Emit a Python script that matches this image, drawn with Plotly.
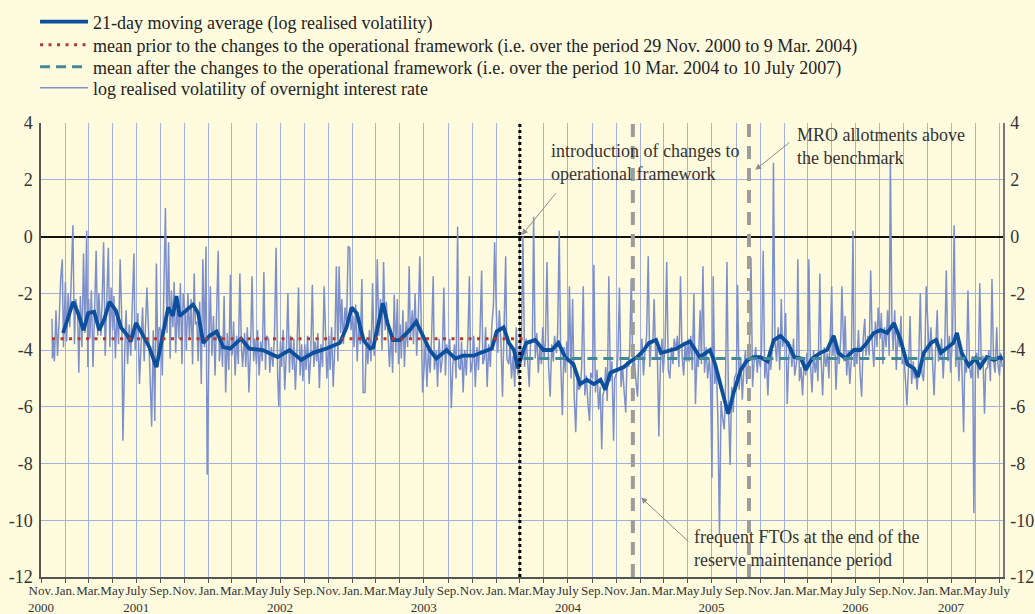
import plotly.graph_objects as go

# ---------------- data ----------------
# 21-day moving average of log realised volatility
ma_dates = [
    "2000-12-27", "2001-01-22", "2001-02-03", "2001-02-17", "2001-03-01", "2001-03-16", "2001-03-29",
    "2001-04-11", "2001-04-24", "2001-05-10", "2001-05-23", "2001-06-09", "2001-06-17", "2001-06-30",
    "2001-07-13", "2001-08-03", "2001-08-21", "2001-09-02", "2001-09-20", "2001-10-02", "2001-10-11",
    "2001-10-19", "2001-11-06", "2001-11-22", "2001-12-05", "2001-12-18", "2002-01-03", "2002-01-21",
    "2002-02-07", "2002-02-24", "2002-03-24", "2002-04-14", "2002-05-18", "2002-06-25", "2002-07-25",
    "2002-08-24", "2002-09-23", "2002-10-27", "2002-11-30", "2002-12-17", "2002-12-30", "2003-01-12",
    "2003-01-29", "2003-02-15", "2003-02-23", "2003-03-06", "2003-03-19", "2003-03-31", "2003-04-14",
    "2003-05-01", "2003-05-13", "2003-05-26", "2003-06-12", "2003-06-29", "2003-07-16", "2003-08-02",
    "2003-08-28", "2003-09-19", "2003-10-09", "2003-11-04", "2003-11-30", "2003-12-21", "2004-01-02",
    "2004-01-20", "2004-02-02", "2004-02-15", "2004-02-25", "2004-03-10", "2004-03-18", "2004-04-09",
    "2004-04-30", "2004-05-21", "2004-06-07", "2004-06-24", "2004-07-15", "2004-08-01", "2004-08-18",
    "2004-09-05", "2004-09-22", "2004-10-04", "2004-10-17", "2004-11-03", "2004-11-20", "2004-12-07",
    "2004-12-24", "2005-01-10", "2005-01-23", "2005-02-10", "2005-02-22", "2005-03-09", "2005-04-03",
    "2005-04-21", "2005-05-07", "2005-06-01", "2005-06-27", "2005-07-10", "2005-07-27", "2005-08-12",
    "2005-08-26", "2005-09-13", "2005-09-30", "2005-10-16", "2005-11-02", "2005-11-20", "2005-12-06",
    "2005-12-23", "2006-01-10", "2006-01-27", "2006-02-13", "2006-02-25", "2006-03-13", "2006-04-03",
    "2006-04-20", "2006-05-07", "2006-05-19", "2006-06-06", "2006-06-27", "2006-07-14", "2006-07-30",
    "2006-08-17", "2006-09-03", "2006-09-20", "2006-10-07", "2006-10-24", "2006-11-10", "2006-11-27",
    "2006-12-07", "2006-12-22", "2007-01-09", "2007-01-22", "2007-02-03", "2007-02-20", "2007-03-07",
    "2007-03-16", "2007-03-28", "2007-04-15", "2007-05-02", "2007-05-14", "2007-05-31", "2007-06-18",
    "2007-07-05", "2007-07-10",
]
ma_values = [
    -3.4, -2.3, -2.7, -3.3, -2.7, -2.65, -3.3,
    -2.9, -2.3, -2.6, -3.2, -3.5, -3.7, -3.05,
    -3.35, -3.9, -4.6, -3.75, -2.5, -2.8, -2.1,
    -2.8, -2.6, -2.4, -2.7, -3.75, -3.5, -3.35,
    -3.9, -3.95, -3.6, -3.95, -4.0, -4.25, -4.0,
    -4.35, -4.1, -3.95, -3.75, -3.2, -2.5, -2.7,
    -3.65, -3.95, -3.9, -3.2, -2.35, -3.05, -3.65,
    -3.65, -3.5, -3.3, -3.0, -3.5, -4.0, -4.3,
    -4.0, -4.3, -4.2, -4.2, -4.05, -3.95, -3.35,
    -3.2, -3.75, -4.0, -4.65, -4.0, -3.75, -3.65,
    -4.0, -4.0, -3.75, -4.25, -4.5, -5.2, -5.05,
    -5.2, -5.05, -5.4, -4.8, -4.7, -4.6, -4.4,
    -4.25, -4.0, -3.75, -3.65, -4.1, -4.05, -3.95,
    -3.8, -3.7, -4.25, -4.0, -4.5, -5.4, -6.25,
    -5.5, -4.7, -4.35, -4.25, -4.25, -4.4, -3.65,
    -3.5, -3.75, -4.25, -4.3, -4.7, -4.3, -4.1,
    -4.0, -3.5, -4.1, -4.3, -4.0, -4.0, -3.75,
    -3.4, -3.3, -3.4, -3.05, -3.65, -4.5, -4.65,
    -4.95, -4.1, -3.75, -3.65, -4.1, -3.9, -3.75,
    -3.4, -4.1, -4.55, -4.3, -4.6, -4.25, -4.35,
    -4.25, -4.35,
]

# daily log realised volatility, read at eight days of every month
vol_sample_days = [2, 5, 9, 13, 17, 21, 25, 28]
vol_start_dates = ["2000-11-29", "2000-11-30"]
vol_start_values = [-2.9, -4.3]
vol_2000_dec = [-3.6, -4.4, -2.6, -4.2, -3.0, -1.5, -0.8, -3.9]
vol_2001 = [
    -1.6, -3.7, -2.0, -3.2, -1.4, 0.4, -3.8, -2.2,
    -2.6, -4.8, -2.1, -3.9, -0.6, -3.4, 0.2, -4.6,
    -2.2, -3.6, -1.9, -4.6, -2.7, -0.5, -3.5, -2.0,
    -3.5, -2.4, -0.2, -4.2, -2.3, -0.4, -3.9, -1.8,
    -3.3, -2.1, -4.3, -2.6, -3.8, -0.8, -2.9, -7.2,
    -3.9, -2.6, -4.5, -3.1, -4.2, -2.4, -0.6, -4.0,
    -3.4, -2.7, -5.2, -3.6, -2.5, -4.4, -2.9, -1.8,
    -3.7, -4.8, -6.7, -3.3, -6.5, -0.95, -4.6, -3.2,
    -3.3, -4.9, -2.1, 1.0, -3.4, -0.2, -4.3, -1.9,
    -3.2, -1.6, -4.1, -2.3, -3.6, -1.65, -4.5, -2.0,
    -2.7, -4.0, -2.0, -3.6, -2.2, -4.5, -1.3, -3.1,
    -3.0, -4.4, -2.3, -5.2, -0.8, -3.9, -0.35, -8.4,
]
vol_2002 = [
    -3.6, -1.75, -4.2, -2.8, -4.9, -3.0, -0.5, -4.4,
    -3.5, -4.6, -2.1, -5.5, -3.4, -4.7, -1.35, -4.2,
    -4.1, -3.0, -4.9, -3.5, -4.5, -1.3, -3.9, -4.6,
    -3.4, -4.6, -3.2, -5.5, -4.0, -1.4, -4.4, -3.6,
    -4.5, -3.3, -4.9, -3.7, -4.4, -1.25, -4.7, -3.5,
    -3.6, -4.8, -3.9, -4.6, -3.4, -0.4, -4.9, -6.0,
    -3.7, -4.6, -3.3, -5.4, -4.1, -2.0, -4.8, -3.5,
    -4.7, -3.6, -5.4, -4.0, -1.8, -4.9, -3.8, -5.1,
    -3.8, -4.7, -3.5, -5.2, -4.2, -1.7, -4.6, -3.7,
    -4.4, -3.4, -5.35, -3.8, -4.6, -1.75, -4.1, -5.0,
    -3.5, -4.7, -3.2, -5.3, -3.9, -1.05, -4.4, -1.05,
    -3.4, -2.2, -3.8, -2.5, -3.1, -0.35, -0.4, -3.3,
]
vol_2003 = [
    -2.8, -3.9, -2.4, -4.4, -3.0, -3.8, -1.5, -5.5,
    -5.5, -3.6, -4.5, -3.3, -4.4, -1.65, -4.2, -3.0,
    -2.9, -0.8, -3.5, -2.2, -4.0, -0.9, -3.3, -2.3,
    -3.7, -4.6, -3.3, -4.8, -2.05, -4.1, -2.2, -4.5,
    -3.1, -4.3, -2.6, -4.6, -3.0, -3.9, -1.05, -3.6,
    -2.6, -3.8, -2.0, -4.2, -2.9, -0.7, -3.3, -5.5,
    -4.6, -3.6, -5.3, -3.9, -4.8, -3.5, -1.4, -4.7,
    -4.0, -5.3, -3.6, -4.8, -4.3, -1.8, -4.9, -3.8,
    -4.2, -3.6, -6.05, -4.5, -3.8, -5.0, 0.35, -4.6,
    -4.7, -3.7, -5.5, -4.0, -4.9, -3.6, -1.4, -4.8,
    -4.4, -3.5, -5.3, -3.9, -4.7, -3.3, -1.2, -4.5,
    -4.3, -3.2, -5.3, -3.8, -4.6, -3.1, -2.4, -0.2,
]
vol_2004 = [
    -3.0, -4.1, -2.6, -3.7, -5.65, -3.3, -0.7, -4.3,
    -4.5, -3.8, -5.0, -4.2, -5.3, -3.2, -4.9, -4.0,
    -4.1, -3.5, 0.0, -4.6, -3.6, -4.4, -5.3, -3.8,
    -3.6, 0.7, -4.3, -3.4, -4.8, -3.9, -4.5, -3.2,
    -4.3, -3.7, -0.9, -4.6, -5.65, -3.8, -4.4, -3.5,
    -4.1, -3.4, 0.2, -4.5, -6.3, -3.9, -4.8, -3.7,
    -4.4, -1.75, -5.0, -2.2, -5.6, -6.9, -4.9, -5.4,
    -5.3, -4.6, -1.75, -5.6, -4.9, -5.9, -6.5, -4.8,
    -5.0, -1.0, -5.5, -4.7, -6.1, -5.3, -7.5, -5.6,
    -5.4, -4.6, -5.8, -1.4, -5.1, -4.4, -7.2, -5.0,
    -4.8, -4.2, -1.8, -5.3, -4.6, -5.5, -6.2, -4.4,
    -4.6, -4.0, -1.5, -4.9, -4.4, -5.1, -5.65, -4.2,
]
vol_2005 = [
    -4.3, -3.6, -4.9, -4.0, -3.5, -0.7, -4.6, -3.8,
    -3.7, -2.2, -4.3, -3.9, -7.05, -4.5, -3.6, -4.8,
    -4.2, -3.8, -0.9, -4.7, -5.0, -3.9, -4.5, -3.6,
    -4.0, -3.5, -4.6, -1.4, -4.2, -4.9, -3.7, -4.4,
    -3.6, -4.4, -3.5, -4.7, -2.0, -5.9, -4.1, -4.6,
    -2.6, -4.5, -1.05, -4.8, -3.9, -5.0, -4.3, -4.9,
    -8.5, -1.4, -5.2, -4.6, -6.4, -10.5, -5.8, -6.3,
    -6.8, -5.6, -0.9, -6.0, -8.05, -5.3, -6.2, -5.0,
    -4.8, -1.7, -5.4, -4.3, -5.75, -4.6, -4.0, -5.2,
    -4.5, -4.0, -0.75, -5.3, -4.4, -3.9, -4.8, -4.2,
    -4.6, -3.9, -0.5, -5.0, -4.3, -5.6, -4.0, -4.7,
    -4.0, 2.6, -3.7, -4.4, -3.2, -4.7, -2.2, -3.9,
]
vol_2006 = [
    -3.5, -2.7, -5.9, -4.2, -3.8, -4.6, -3.6, -4.9,
    -4.4, -0.8, -5.1, -4.6, -5.6, -4.3, -4.9, -4.1,
    -4.7, -0.8, -4.5, -5.5, -4.0, -4.8, -4.3, -5.1,
    -1.3, -4.3, -5.6, -3.9, -4.6, -4.1, -5.0, -3.8,
    -1.75, -4.2, -3.5, -5.4, -3.9, -4.5, -3.6, -1.75,
    -4.4, -2.8, -4.9, -4.0, -5.2, -4.3, 0.2, -4.6,
    -3.9, -4.5, -3.3, -4.8, -5.65, -3.6, -2.9, -4.2,
    -3.5, -4.2, -1.2, -3.8, -4.6, -3.0, -3.9, -2.5,
    -3.6, -2.7, -4.5, -3.2, -3.9, -2.6, -4.2, 2.75,
    -3.1, -4.0, -2.6, -4.7, -3.4, -3.9, -2.8, -4.5,
    -4.3, -5.0, -5.95, -4.6, -2.8, -5.2, -4.4, -5.0,
    -4.9, -5.4, -4.3, -2.0, -4.8, -5.1, -4.0, -1.75,
]
vol_2007 = [
    -3.6, -4.3, -3.2, -4.7, -5.6, -3.9, -2.6, -4.4,
    -4.2, -3.6, -5.0, -3.9, -1.2, -4.4, -3.5, -4.8,
    -4.0, -3.4, 0.4, -4.6, -3.7, -5.1, -3.9, -4.3,
    -6.9, -4.3, -4.8, -1.9, -4.6, -5.0, -4.2, -9.75,
    -4.5, -4.1, -5.0, -1.65, -4.6, -4.2, -6.25, -4.7,
    -4.6, -4.0, -5.1, -1.5, -4.4, -4.8, -3.2, -4.5,
]
vol_end_dates = ["2007-07-02", "2007-07-05", "2007-07-09"]
vol_end_values = [-4.9, -4.1, -4.6]

# period means
mean_prior_value = -3.6
mean_prior_period = ["2000-11-29", "2004-03-09"]
mean_after_value = -4.3
mean_after_period = ["2004-03-10", "2007-07-10"]

# event markers
framework_change_date = "2004-03-01"
fto_date = "2004-12-13"
mro_date = "2005-10-04"

# axis ticks
month_names = {1: "Jan.", 3: "Mar.", 5: "May", 7: "July", 9: "Sep.", 11: "Nov."}
year_label_at = {(2000, 11): "2000", (2001, 7): "2001", (2002, 7): "2002", (2003, 7): "2003",
                 (2004, 7): "2004", (2005, 7): "2005", (2006, 7): "2006", (2007, 3): "2007"}
y_ticks = [4, 2, 0, -2, -4, -6, -8, -10, -12]

# ---------------- build series ----------------
vol_x = list(vol_start_dates)
vol_y = list(vol_start_values)


def add_block(values, year, month):
    y, m = year, month
    for i in range(0, len(values), 8):
        for d, v in zip(vol_sample_days, values[i:i + 8]):
            vol_x.append(f"{y:04d}-{m:02d}-{d:02d}")
            vol_y.append(v)
        m += 1
        if m > 12:
            m = 1
            y += 1


add_block(vol_2000_dec, 2000, 12)
for yr, block in [(2001, vol_2001), (2002, vol_2002), (2003, vol_2003), (2004, vol_2004),
                  (2005, vol_2005), (2006, vol_2006), (2007, vol_2007)]:
    add_block(block, yr, 1)
vol_x += vol_end_dates
vol_y += vol_end_values

tick_vals, tick_text = [], []
y, m = 2000, 11
while (y, m) <= (2007, 7):
    tick_vals.append(f"{y:04d}-{m:02d}-01")
    lab = month_names[m]
    if (y, m) in year_label_at:
        lab += "<br>" + year_label_at[(y, m)]
    tick_text.append(lab)
    m += 2
    if m > 12:
        m -= 12
        y += 1

# ---------------- figure ----------------
SERIF = "Liberation Serif"
BG = "#fffbdf"
GRID = "#a3afdf"

fig = go.Figure()

fig.add_trace(go.Scatter(
    x=vol_x, y=vol_y, mode="lines", name="log realised volatility of overnight interest rate",
    line=dict(color="#7d90cc", width=1.5), legend="legend4", hoverinfo="skip"))
fig.add_trace(go.Scatter(
    x=ma_dates, y=ma_values, mode="lines", name="21-day moving average (log realised volatility)",
    line=dict(color="#0b4f9d", width=3.8), legend="legend", hoverinfo="skip"))
fig.add_trace(go.Scatter(
    x=mean_prior_period, y=[mean_prior_value] * 2, mode="lines",
    name="mean prior to the changes to the operational framework (i.e. over the period 29 Nov. 2000 to 9 Mar. 2004)",
    line=dict(color="#b8382c", width=3, dash="3px,5.5px"), legend="legend2", hoverinfo="skip"))
fig.add_trace(go.Scatter(
    x=mean_after_period, y=[mean_after_value] * 2, mode="lines",
    name="mean after the changes to the operational framework (i.e. over the period 10 Mar. 2004 to 10 July 2007)",
    line=dict(color="#44899a", width=3, dash="10px,6px"), legend="legend3", hoverinfo="skip"))
# right-hand axis copy
fig.add_trace(go.Scatter(
    x=mean_prior_period, y=[mean_prior_value] * 2, mode="lines", yaxis="y2",
    line=dict(color="rgba(0,0,0,0)", width=0), showlegend=False, hoverinfo="skip"))

# vertical event lines
fig.add_shape(type="line", xref="x", yref="paper", x0=framework_change_date, x1=framework_change_date,
              y0=0, y1=1, line=dict(color="black", width=3, dash="3px,3px"), layer="above")
for d in [fto_date, mro_date]:
    fig.add_shape(type="line", xref="x", yref="paper", x0=d, x1=d, y0=0, y1=1,
                  line=dict(color="#9c9c9c", width=4, dash="13px,9px"), layer="above")

ann_font = dict(family=SERIF, size=18, color="#333333")
fig.add_annotation(x="2004-05-14", y=3.45, xref="x", yref="y", xanchor="left", yanchor="top",
                   text="introduction of changes to<br>operational framework", showarrow=False,
                   font=ann_font, align="left")
fig.add_annotation(x="2006-01-30", y=0.999, xref="x", yref="paper", xanchor="left", yanchor="top",
                   text="MRO allotments above<br>the benchmark", showarrow=False,
                   font=ann_font, align="left")
fig.add_annotation(x="2005-05-12", y=-10.15, xref="x", yref="y", xanchor="left", yanchor="top",
                   text="frequent FTOs at the end of the<br>reserve maintenance period", showarrow=False,
                   font=ann_font, align="left")
arrow_style = dict(showarrow=True, text="", arrowhead=2, arrowsize=1.2, arrowwidth=1,
                   arrowcolor="#8a8a8a", xref="x", yref="y", axref="x", ayref="y")
fig.add_annotation(x="2004-03-06", y=0.05, ax="2004-06-03", ay=1.57, **arrow_style)
fig.add_annotation(x="2005-10-20", y=2.35, ax="2006-01-18", ay=3.35, **arrow_style)
fig.add_annotation(x="2005-01-03", y=-9.2, ax="2005-05-07", ay=-10.8, **arrow_style)

axis_font = dict(family=SERIF, size=18, color="#333333")
leg_common = dict(x=-0.0062, xanchor="left", yanchor="middle", bgcolor="rgba(0,0,0,0)",
                  font=dict(family=SERIF, size=18, color="#222222"), itemwidth=48)
fig.update_layout(
    width=1035, height=614,
    margin=dict(l=41, r=32, t=123, b=37, autoexpand=False),
    paper_bgcolor=BG, plot_bgcolor=BG,
    showlegend=True,
    legend=dict(y=1.2225, **leg_common),
    legend2=dict(y=1.1718, **leg_common),
    legend3=dict(y=1.1233, **leg_common),
    legend4=dict(y=1.0771, **leg_common),
    xaxis=dict(type="date", range=["2000-11-01", "2007-07-11"], tickmode="array",
               tickvals=tick_vals, ticktext=tick_text, tickangle=0,
               tickfont=dict(family=SERIF, size=13, color="#333333"),
               showgrid=True, gridcolor=GRID, gridwidth=1, ticks="",
               minor=dict(ticks="outside", ticklen=4, tickcolor="#555555", dtick="M2",
                          tick0="2000-11-01", showgrid=False),
               showline=True, linecolor="#555555", linewidth=1.5, zeroline=False,
               automargin=False, ticklabelstandoff=1),
    yaxis=dict(range=[-12, 4], tickmode="array", tickvals=y_ticks, ticktext=[str(v) for v in y_ticks],
               tickfont=axis_font, showgrid=True, gridcolor=GRID, gridwidth=1,
               zeroline=True, zerolinecolor="#111111", zerolinewidth=1.5,
               showline=True, linecolor="#555555", linewidth=1.5, ticks="", ticklabelstandoff=3,
               automargin=False),
    yaxis2=dict(range=[-12, 4], overlaying="y", side="right", tickmode="array", tickvals=y_ticks,
                ticktext=[str(v) for v in y_ticks], tickfont=axis_font, showgrid=False,
                zeroline=False, showline=True, linecolor="#777777", linewidth=1.5, ticks="",
                ticklabelstandoff=2, automargin=False),
    hovermode=False,
)

fig.write_html(
    "out.html",
    config={"displayModeBar": False},
    post_script="document.body.style.margin='0px';document.body.style.background='#fffbdf';",
)
